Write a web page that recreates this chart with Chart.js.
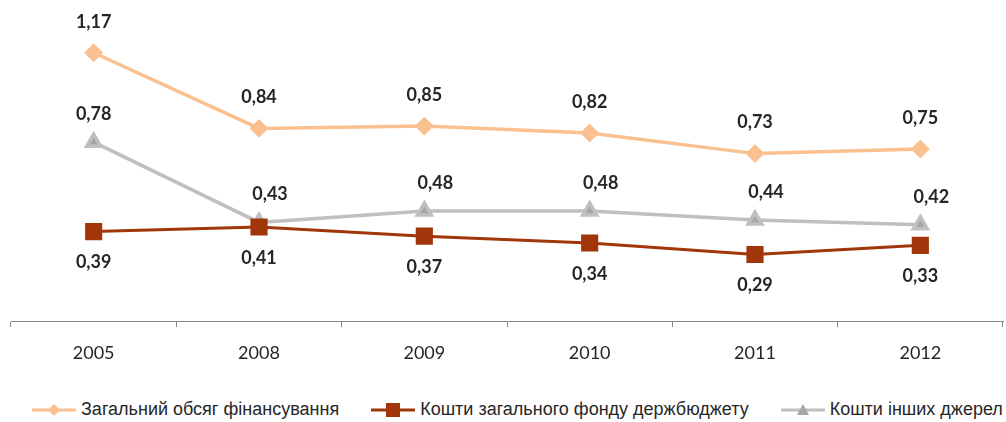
<!DOCTYPE html>
<html>
<head>
<meta charset="utf-8">
<script src="https://cdn.jsdelivr.net/npm/chart.js@4/dist/chart.umd.min.js"></script>
<style>
  html, body { margin: 0; padding: 0; background: #fff; overflow: hidden; }
  #wrap { width: 1006px; height: 422px; position: relative; }
  #chartBox { position: absolute; left: 0; top: 0; width: 1006px; height: 366px; }
  #legend { position: absolute; left: 32px; top: 399px; display: flex; align-items: center;
    font-family: 'Liberation Sans', Arial, sans-serif; font-size: 18px; color: #262626; white-space: nowrap; }
  #legend .item { display: flex; align-items: center; margin-right: 32px; }
  #legend .item:last-child { margin-right: 0; }
  #legend canvas { margin-right: 5px; }
</style>
</head>
<body>
<div id="wrap">
  <div id="chartBox"><canvas id="myChart"></canvas></div>
  <div id="legend"></div>
</div>
<script>
const YEARS = ['2005', '2008', '2009', '2010', '2011', '2012']
const TOTAL = [1.17, 0.84, 0.85, 0.82, 0.73, 0.75]
const STATE_FUND = [0.39, 0.41, 0.37, 0.34, 0.29, 0.33]
const OTHER = [0.78, 0.43, 0.48, 0.48, 0.44, 0.42]
const SERIES_NAMES = ['Загальний обсяг фінансування', 'Кошти загального фонду держбюджету', 'Кошти інших джерел']

const ORANGE = '#FAC090'
const BROWN = '#A0360A'
const GREY = '#BFBFBF'

function formatValue(v) {
  return v.toFixed(2).replace('.', ',')
}

// little canvas with a line and marker, used as legend symbol
function legendSymbol(color, mark, style) {
  const c = document.createElement('canvas')
  c.width = 44
  c.height = 16
  const g = c.getContext('2d')
  g.strokeStyle = color
  g.lineWidth = 3
  g.beginPath()
  g.moveTo(0, 8)
  g.lineTo(44, 8)
  g.stroke()
  g.fillStyle = mark
  g.beginPath()
  if (style == 'rectRot') {
    g.moveTo(22, 2); g.lineTo(28, 8); g.lineTo(22, 14); g.lineTo(16, 8)
  } else if (style == 'rect') {
    g.rect(15, 1, 14, 14)
  } else {
    g.moveTo(22, 2); g.lineTo(28, 13); g.lineTo(16, 13)
  }
  g.closePath()
  g.fill()
  return c
}

const valueLabels = {
  id: 'valueLabels',
  afterDatasetsDraw(chart) {
    const ctx = chart.ctx
    ctx.save()
    ctx.font = 'bold 18px Lato'
    ctx.fillStyle = '#262626'
    ctx.textAlign = 'center'
    ctx.textBaseline = 'middle'
    chart.data.datasets.forEach((ds, i) => {
      const meta = chart.getDatasetMeta(i)
      const off = ds.labelOffset
      meta.data.forEach((pt, j) => {
        // first grey label sits right above its marker, the rest a bit to the right
        const dx = j == 0 ? 0 : off[0]
        ctx.fillText(formatValue(ds.data[j]), pt.x + dx, pt.y + off[1])
      })
    })
    ctx.restore()
  }
}

const chart = new Chart(document.getElementById('myChart'), {
  type: 'line',
  data: {
    labels: YEARS,
    datasets: [
      {
        label: SERIES_NAMES[0],
        data: TOTAL,
        borderColor: ORANGE,
        backgroundColor: ORANGE,
        borderWidth: 3.5,
        pointStyle: 'rectRot',
        pointRadius: 7,
        labelOffset: [0, -31],
        symbol: 'rectRot'
      },
      {
        label: SERIES_NAMES[1],
        data: STATE_FUND,
        borderColor: BROWN,
        backgroundColor: BROWN,
        borderWidth: 3,
        pointStyle: 'rect',
        pointRadius: 10,
        labelOffset: [0, 31],
        symbol: 'rect'
      },
      {
        label: SERIES_NAMES[2],
        data: OTHER,
        borderColor: GREY,
        backgroundColor: '#A6A6A6',
        borderWidth: 3.5,
        pointStyle: 'triangle',
        pointRadius: 8,
        labelOffset: [11, -28],
        symbol: 'triangle'
      }
    ]
  },
  options: {
    responsive: true,
    maintainAspectRatio: false,
    animation: false,
    layout: { autoPadding: false, padding: { left: 11, right: 3, top: 0, bottom: 0 } },
    scales: {
      x: {
        offset: true,
        afterFit(scale) { scale.height = 45 },
        grid: { offset: true, drawOnChartArea: false, drawTicks: true, tickLength: 6, color: '#868686' },
        border: { display: true, color: '#868686', width: 1 },
        ticks: { color: '#262626', font: { family: 'Lato', size: 18 }, padding: 15 }
      },
      y: {
        display: false,
        min: 0,
        max: 1.4
      }
    },
    plugins: {
      tooltip: { enabled: false },
      legend: { display: false }
    }
  },
  plugins: [valueLabels]
})

// html legend below the chart
const legendBox = document.getElementById('legend')
chart.data.datasets.forEach(ds => {
  const item = document.createElement('div')
  item.className = 'item'
  item.appendChild(legendSymbol(ds.borderColor, ds.backgroundColor, ds.symbol))
  const span = document.createElement('span')
  span.textContent = ds.label
  item.appendChild(span)
  legendBox.appendChild(item)
})
</script>
</body>
</html>
